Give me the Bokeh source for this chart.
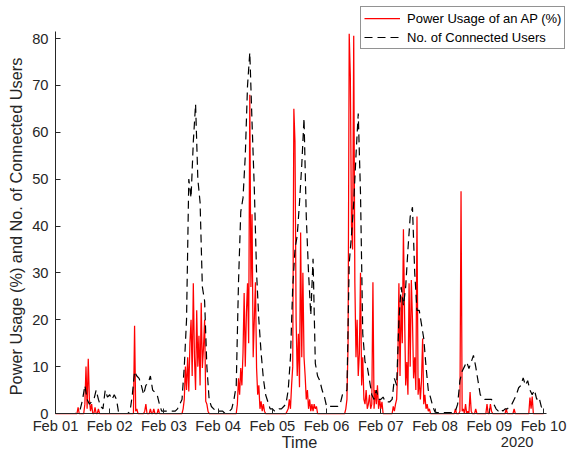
import math
from bokeh.plotting import figure
from bokeh.models import Range1d, FixedTicker, Legend, LegendItem, Label
from bokeh.embed import file_html
from bokeh.resources import INLINE

# ---------------- data ----------------
tick_hours = [0, 24, 48, 72, 96, 120, 144, 168, 192, 216]
tick_labels = ["Feb 01", "Feb 02", "Feb 03", "Feb 04", "Feb 05",
               "Feb 06", "Feb 07", "Feb 08", "Feb 09", "Feb 10"]
y_ticks = [0, 10, 20, 30, 40, 50, 60, 70, 80]

# No. of connected users, hourly samples per day
users_feb01 = [0, 0, 0, 0, 0, 0, 0, 0, 0, 0, 0.5, 1, 3, 6, 3, 2, 2.5, 3, 5, 3, 1.5, 1, 5, 3.5]
users_feb02 = [4, 3, 4, 3, 0, 0, 0, 0, 0, 0.5, 4, 9, 8, 7.5, 6, 4, 6, 6.5, 8, 5, 4.5, 4, 2, 0.5]
users_feb03 = [0.5, 0.5, 0.5, 0.5, 0.5, 0.5, 1, 2, 3, 10, 20, 50, 46, 58, 66, 50, 45, 27, 24, 10, 3, 1.5, 1, 0.5]
users_feb04 = [0.5, 0.5, 0.5, 0, 0, 0.5, 1, 3, 6, 28, 43, 46, 55, 70, 77, 62, 48, 30, 20, 13, 7.5, 4, 2.5, 1]
users_feb05 = [1, 0.5, 0.5, 1, 1, 1.5, 2, 5, 12, 27, 35, 38, 45, 53, 63, 42, 30, 21, 33, 10.7, 8, 7, 5, 3.6]
users_feb06 = [1.5, 1.5, 1.5, 1.5, 1.5, 1.5, 2, 4, 4.4, 5, 32, 38, 45, 55, 64, 47, 17, 11, 10, 7, 4, 3, 5, 3]
users_feb07 = [3, 3.5, 2.5, 2.5, 2.5, 3, 7.5, 6, 20, 27, 23, 27, 35, 42, 44, 30, 22, 22, 19, 16, 10, 5, 3.4, 1.5]
users_feb08 = [0.3, 0.2, 0.2, 0.2, 0.2, 0.2, 0.2, 0.2, 0.2, 0.5, 2, 7, 9, 10, 11, 9.6, 11, 12.4, 10, 7, 4, 3.4, 3, 3]
users_feb09 = [3, 3, 2, 1, 0.5, 1, 0.5, 1, 1, 1.5, 2, 3, 4, 5.5, 6, 7.6, 6, 7, 5, 4, 5, 3, 3.5, 1.5]
users_end = [0.5]

# Power usage of an AP (%), half-hourly samples per day
power_feb01 = [0, 0, 0, 0, 0, 0, 0, 0, 0, 0, 0, 0, 0, 0, 0, 0, 0, 0, 0, 0,
               1.3, 0, 0, 0, 0, 0, 2, 10, 1, 11.7, 3, 0.5, 2, 0, 0, 1.3, 0, 0, 1, 0,
               0, 0, 0, 0, 0, 0, 0, 0]
power_feb02 = [0, 0, 0, 0, 0, 0, 0, 0, 0, 0, 0, 0, 0, 0, 0, 0, 0, 0, 0, 0,
               0, 0, 18.7, 0.5, 1, 0, 0, 0, 0, 0, 0, 0.5, 2, 0, 0, 0, 1, 0, 0, 1,
               0, 0, 0, 1, 0, 0, 0, 0]
power_feb03 = [0, 0, 0, 0, 0, 0, 0, 0, 0, 0, 0, 0, 0, 0, 0, 0, 0, 1, 3, 10,
               5, 12, 4.7, 15, 20, 8, 27.8, 12, 5, 22, 10, 16.6, 6, 23.6, 9.7, 14, 20, 2.6, 2, 0.5,
               0, 0, 0, 0, 0, 0, 0, 0]
power_feb04 = [0, 0, 0, 0, 0, 0, 0, 0, 0, 0, 0, 0, 0, 0, 0, 0, 0, 2, 7.5, 4,
               9.7, 6, 13, 25.7, 10, 21.5, 27.8, 15, 68, 27, 42.5, 12, 20, 28, 9.7, 4, 6, 1, 2.6, 0.5,
               2, 0.5, 0, 0, 0, 0, 0, 0]
power_feb05 = [0, 0, 0, 0, 0, 0, 0, 0, 0, 0, 0, 0, 0, 0.5, 1, 3, 1, 6, 10, 65,
               58, 20, 8, 17, 5.6, 38.6, 12, 30, 12, 8, 3, 5, 1, 3, 0.5, 2, 0.5, 2, 1, 1.5,
               0, 0, 0, 0, 0, 0, 0, 0]
power_feb06 = [0, 0, 0, 0, 0, 0, 0, 0, 0, 0, 0, 0, 0, 0, 0, 0, 0, 1, 3, 15,
               81, 72, 40, 35, 80.6, 28, 12, 20, 8, 12.8, 30, 6, 12, 3, 2, 5, 1, 2, 4, 1,
               2, 28, 1, 5, 2, 6, 1, 3]
power_feb07 = [1, 2.5, 0, 0, 0, 0, 0, 0, 0, 0, 0, 1.5, 0.5, 2, 3, 10, 27.8, 8, 25, 15,
               39.3, 21.5, 6, 11, 4, 27.8, 10, 28.5, 20, 7.5, 12, 5, 42, 4, 7.5, 3, 7, 16, 2, 4,
               1, 2, 0.5, 1, 0, 0, 0, 0]
power_feb08 = [0, 0, 0, 0, 0, 0, 0, 0, 0, 0, 0, 0, 0, 0, 0, 0, 0, 0, 1, 0,
               0, 0, 0.5, 47.4, 0.5, 1, 0, 2, 0, 0.5, 0, 4.6, 0.5, 0, 0, 0, 1, 0, 0, 0,
               0, 0, 0, 0, 0, 0, 2, 0]
power_feb09 = [0, 2, 0.5, 0, 0, 0, 0, 0, 0, 0, 0, 0, 0, 0, 0, 1, 0, 0, 0, 0,
               0, 0, 1, 0, 0, 0, 0, 0, 0, 0, 0, 0, 0, 0, 0, 0, 3.4, 1, 3.6, 0,
               0, 0, 0, 0, 0, 0, 0, 0]
power_end = [0]

users = (users_feb01 + users_feb02 + users_feb03 + users_feb04 + users_feb05 +
         users_feb06 + users_feb07 + users_feb08 + users_feb09 + users_end)
power = (power_feb01 + power_feb02 + power_feb03 + power_feb04 + power_feb05 +
         power_feb06 + power_feb07 + power_feb08 + power_feb09 + power_end)
t_users = [float(i) for i in range(len(users))]          # hours since Feb 01 00:00
t_power = [i * 0.5 for i in range(len(power))]

# ---------------- figure ----------------
AX = "#262626"
FONT = "Liberation Sans"
W, H = 567, 449
X0_PX, PX_PER_H = 55.0, 488.0 / 216.0      # Feb 01 at x=55, Feb 10 at x=543
Y0_PX, PX_PER_U = 413.0, 375.0 / 80.0      # 0 at y=413, 80 at y=38


def hx(px):
    return (px - X0_PX) / PX_PER_H


def vy(py):
    return (Y0_PX - py) / PX_PER_U


p = figure(width=W, height=H, output_backend="svg", toolbar_location=None,
           x_range=Range1d(hx(0), hx(W)), y_range=Range1d(vy(H), vy(0)),
           min_border=0, min_border_left=0, min_border_right=0,
           min_border_top=0, min_border_bottom=0)
p.title.visible = False
p.outline_line_color = None
p.xgrid.visible = False
p.ygrid.visible = False
p.background_fill_color = "white"
p.border_fill_color = "white"

r_power = p.line(t_power, power, line_color="#ff0000", line_width=1.25)
r_users = p.line(t_users, users, line_color="#000000", line_width=1.2, line_dash="8 5")

for ax in (p.xaxis[0], p.yaxis[0]):
    ax.fixed_location = 0
    ax.axis_line_color = AX
    ax.axis_line_width = 1
    ax.major_tick_line_color = AX
    ax.major_tick_in = 5
    ax.major_tick_out = 0
    ax.minor_tick_line_color = None
    ax.major_label_text_color = AX
    ax.major_label_text_font = FONT
    ax.major_label_text_font_size = "14.7px"

p.xaxis[0].bounds = (0, 217.3)
p.xaxis[0].ticker = FixedTicker(ticks=tick_hours)
p.xaxis[0].major_label_overrides = {h: lab for h, lab in zip(tick_hours, tick_labels)}
p.xaxis[0].major_label_standoff = 4
p.yaxis[0].bounds = (0, 81.6)
p.yaxis[0].ticker = FixedTicker(ticks=y_ticks)
p.yaxis[0].major_label_standoff = 7

# axis titles (inside the frame, which fills the canvas)
p.add_layout(Label(x=hx(299), y=vy(441), text="Time",
                   text_align="center", text_baseline="middle",
                   text_font=FONT, text_font_size="16.3px", text_color=AX))
p.add_layout(Label(x=hx(516.7), y=vy(441.5), text="2020",
                   text_align="center", text_baseline="middle",
                   text_font=FONT, text_font_size="14.7px", text_color=AX))
p.add_layout(Label(x=hx(15.5), y=vy(226), text="Power Usage (%) and No. of Connected Users",
                   angle=math.pi / 2, text_align="center", text_baseline="middle",
                   text_font=FONT, text_font_size="16.3px", text_color=AX))

legend = Legend(items=[LegendItem(label="Power Usage of an AP (%)", renderers=[r_power]),
                       LegendItem(label="No. of Connected Users", renderers=[r_users])],
                location=(360, H - 49), orientation="vertical",
                glyph_width=36, glyph_height=16, label_height=16, label_standoff=7,
                padding=3, spacing=3, margin=0,
                label_text_font=FONT, label_text_font_size="13px", label_text_color="#000000",
                border_line_color=AX, border_line_width=1,
                background_fill_color="white", background_fill_alpha=1)
p.add_layout(legend)

open("out.html", "w").write(file_html(p, INLINE))
